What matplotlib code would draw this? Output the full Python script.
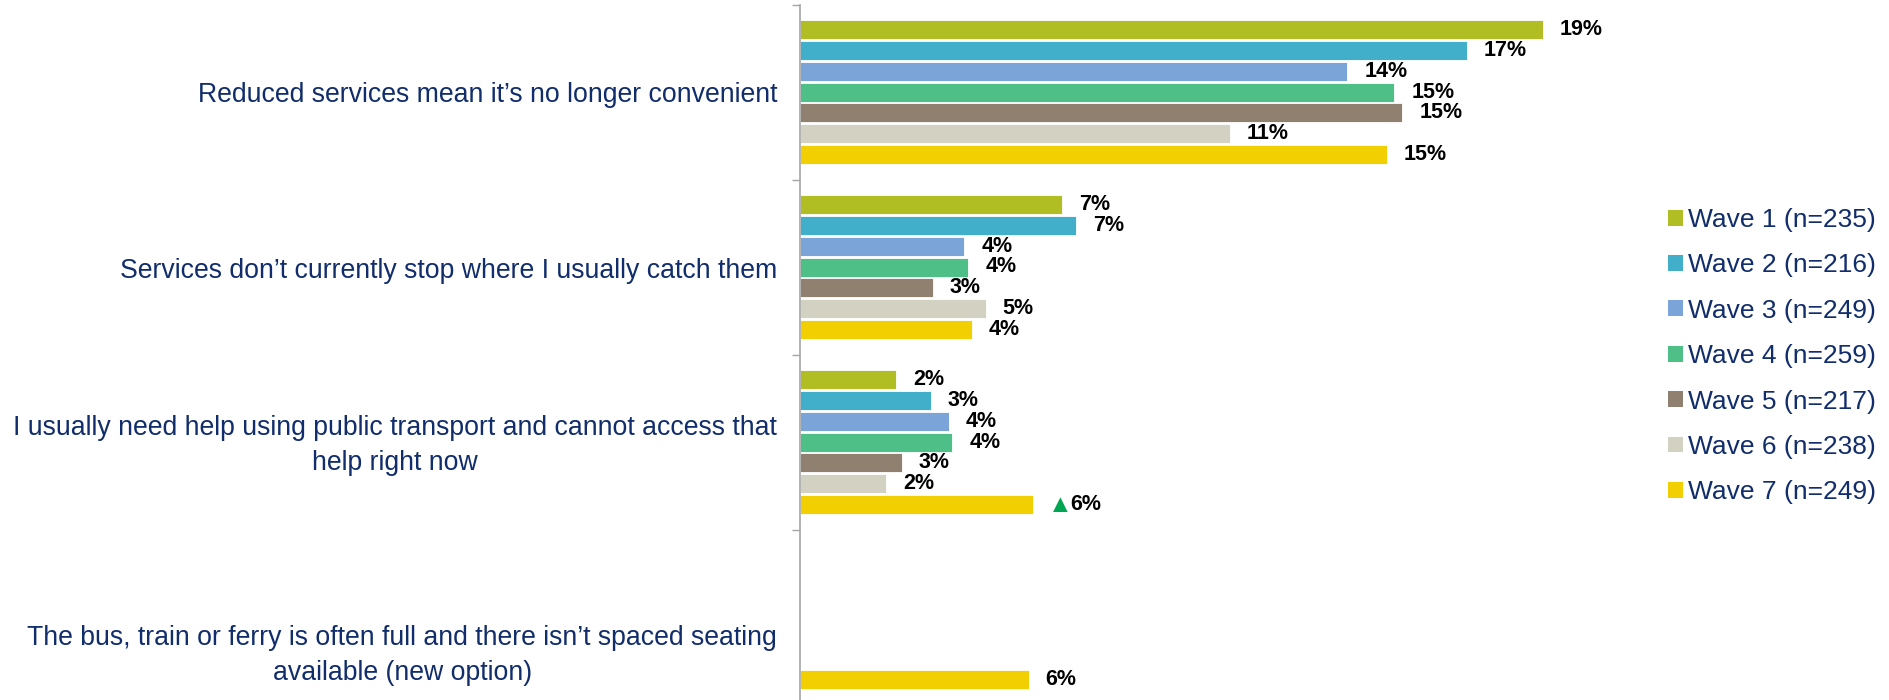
import numpy as np
import matplotlib
matplotlib.use("Agg")
import matplotlib.pyplot as plt
from matplotlib.patches import Patch

plt.rcParams['font.family'] = ['Liberation Sans', 'DejaVu Sans']

categories = [
    "Reduced services mean it\u2019s no longer convenient",
    "Services don\u2019t currently stop where I usually catch them",
    "I usually need help using public transport and cannot access that\nhelp right now",
    "The bus, train or ferry is often full and there isn\u2019t spaced seating\navailable (new option)",
]
waves = ["Wave 1 (n=235)", "Wave 2 (n=216)", "Wave 3 (n=249)", "Wave 4 (n=259)",
         "Wave 5 (n=217)", "Wave 6 (n=238)", "Wave 7 (n=249)"]
colors = ["#B1BE23", "#41AFCA", "#7BA4D9", "#4FBF88", "#8F8070", "#D3D1C2", "#F2CF00"]

# rows = waves, cols = categories (nan = not asked)
values = [
    [19.0, 6.7, 2.45, np.nan],
    [17.05, 7.05, 3.35, np.nan],
    [14.0, 4.2, 3.8, np.nan],
    [15.2, 4.3, 3.9, np.nan],
    [15.4, 3.4, 2.6, np.nan],
    [11.0, 4.75, 2.2, np.nan],
    [15.0, 4.4, 5.95, 5.85],
]
sig_up = [(6, 2)]  # (wave, category) significantly higher

navy = "#112D6B"
W, H = 1889, 700
fig = plt.figure(figsize=(W / 100, H / 100), dpi=100)

ax_left, ax_right = 800, 1560
ax_top, ax_bottom = 4.5, 704.5
ax = fig.add_axes([ax_left / W, 1 - ax_bottom / H,
                   (ax_right - ax_left) / W, (ax_bottom - ax_top) / H])

px_per_pct = 39.1
ax.set_xlim(0, (ax_right - ax_left) / px_per_pct)
ax.set_ylim(len(categories), 0)

n = len(waves)
group_px = 175.0
pitch = 20.9 / group_px
bar_h = 19.0 / group_px
start = (group_px - n * 20.9) / 2 / group_px

for i in range(n):
    for j in range(len(categories)):
        v = values[i][j]
        if np.isnan(v):
            continue
        y = j + start + pitch * (i + 0.5)
        ax.barh(y, v, height=bar_h, color=colors[i], edgecolor="white", linewidth=0.6)
        lab = "%d%%" % round(v)
        x_lab = v + 17 / px_per_pct
        if (i, j) in sig_up:
            ax.text(x_lab - 2 / px_per_pct, y, "\u25B2", color="#00A651", fontsize=18,
                    va="center", ha="left", clip_on=False)
            x_lab += 21 / px_per_pct
        ax.text(x_lab, y, lab, fontsize=15.5, fontweight="bold", color="black",
                va="center", ha="left", clip_on=False)

# category labels
label_y = np.arange(len(categories)) + 0.52
label_y[3] += 0.2
for j, cat in enumerate(categories):
    ax.text(-23 / px_per_pct, label_y[j], cat, fontsize=19.2, color=navy,
            ha="right", va="center", multialignment="center", clip_on=False,
            linespacing=1.45)

ax.set_yticks(np.arange(len(categories) + 1))
ax.set_yticklabels([])
ax.tick_params(axis="y", length=6, width=1, color="#A6A6A6", direction="out")
ax.set_xticks([])
for s in ["top", "right", "bottom"]:
    ax.spines[s].set_visible(False)
ax.spines["left"].set_color("#A6A6A6")
ax.spines["left"].set_linewidth(1.2)

handles = [Patch(facecolor=c, edgecolor="none") for c in colors]
fig.legend(handles, waves, loc="upper left",
           bbox_to_anchor=(1668 / W, 1 - 208 / H), frameon=False,
           fontsize=19, labelcolor=navy, handlelength=0.55, handleheight=0.55,
           handletextpad=0.2, labelspacing=0.81, borderpad=0, borderaxespad=0)

fig.savefig("out.png", dpi=100)
